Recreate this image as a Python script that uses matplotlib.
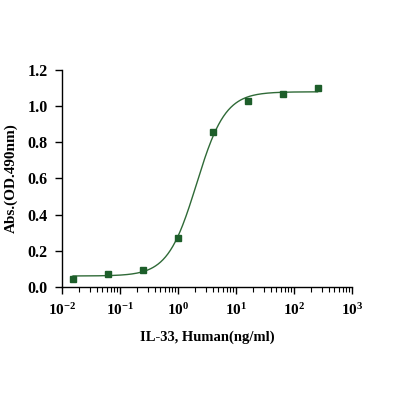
import numpy as np
import matplotlib
matplotlib.use("Agg")
import matplotlib.pyplot as plt
from matplotlib.ticker import LogLocator, NullFormatter

plt.rcParams['font.family'] = 'Liberation Serif'
plt.rcParams['font.weight'] = 'bold'
plt.rcParams['mathtext.fontset'] = 'custom'
plt.rcParams['mathtext.rm'] = 'Liberation Serif:bold'
plt.rcParams['mathtext.it'] = 'Liberation Serif:bold'
plt.rcParams['mathtext.bf'] = 'Liberation Serif:bold'

# measured points (4-fold dilution series)
conc = [0.015625, 0.0625, 0.25, 1, 4, 16, 64, 256]
absorb = [0.045, 0.072, 0.095, 0.27, 0.855, 1.03, 1.07, 1.10]

# 4PL fit parameters
bottom, top, ec50, hill = 0.06, 1.08, 2.1, 1.75

x_ticks = [1e-2, 1e-1, 1e0, 1e1, 1e2, 1e3]
x_labels = ['10$^{-2}$', '10$^{-1}$', '10$^{0}$', '10$^{1}$', '10$^{2}$', '10$^{3}$']
y_ticks = [0.0, 0.2, 0.4, 0.6, 0.8, 1.0, 1.2]

green = '#1d5e2a'

fig = plt.figure(figsize=(3.94, 3.94), dpi=100)
ax = fig.add_axes([0.157, 0.272, 0.736, 0.55])

xs = np.logspace(np.log10(conc[0]), np.log10(conc[-1]), 300)
fit = bottom + (top - bottom) / (1 + (ec50 / xs) ** hill)
ax.plot(xs, fit, color='#2f6a37', lw=1.0)
ax.plot(conc, absorb, 's', color=green, ms=4, mec=green)

ax.set_xscale('log')
ax.set_xlim(1e-2, 1e3)
ax.set_ylim(0, 1.2)
ax.set_xticks(x_ticks)
ax.set_xticklabels(x_labels)
ax.xaxis.set_minor_locator(LogLocator(base=10, subs=np.arange(2, 10), numticks=20))
ax.xaxis.set_minor_formatter(NullFormatter())
ax.set_yticks(y_ticks)
ax.set_yticklabels([f'{v:.1f}' for v in y_ticks])

for s in ['top', 'right']:
    ax.spines[s].set_visible(False)
for s in ['left', 'bottom']:
    ax.spines[s].set_linewidth(1.0)
ax.tick_params(axis='both', which='major', direction='out', length=5, width=1, pad=6)
ax.tick_params(axis='y', labelsize=11.5, pad=5)
ax.tick_params(axis='x', labelsize=11)
ax.tick_params(axis='x', which='minor', direction='out', length=3.5, width=0.8)

ax.set_xlabel('IL-33, Human(ng/ml)', fontsize=10.5, fontweight='bold', labelpad=9)
ax.set_ylabel('Abs.(OD.490nm)', fontsize=11, fontweight='bold', labelpad=7)

fig.savefig('out.png', dpi=100)
